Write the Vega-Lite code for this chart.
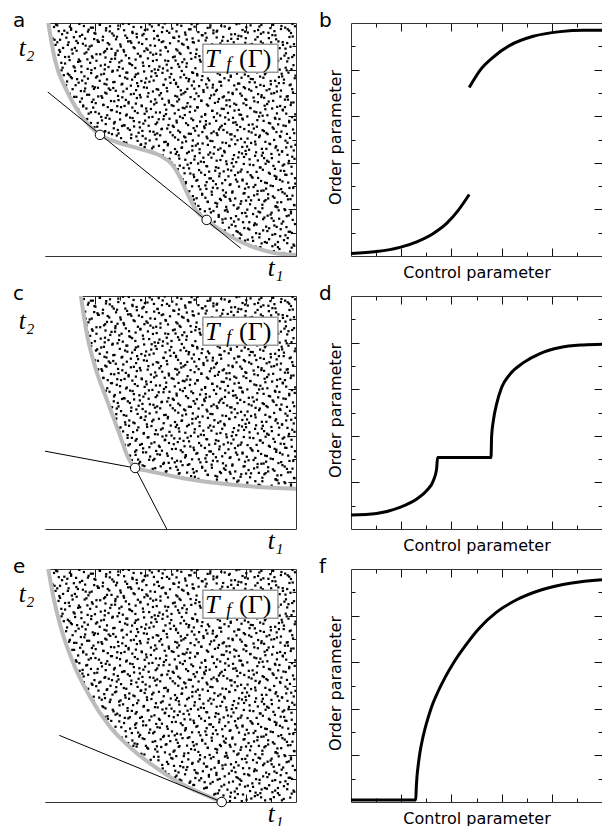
{
"$schema":"https://vega.github.io/schema/vega-lite/v6.json",
"background":"white",
"padding":{"left":13,"top":10,"right":0,"bottom":0},
"autosize":{"type":"pad"},
"config":{"view":{"stroke":null},"axis":{"labels":false,"grid":false,"domainColor":"#333333","tickColor":"#111111","tickWidth":1,"zindex":1,"titleColor":"black","titleFontWeight":"normal"},"title":{"font":"DejaVu Sans","fontWeight":"normal","fontSize":20,"anchor":"start","frame":"group","dx":-32,"offset":-8,"baseline":"alphabetic","color":"black"}},
"datasets":{
"dots":[{"x":7,"y":22},{"x":31,"y":5},{"x":68,"y":33},{"x":79,"y":14},{"x":112,"y":38},{"x":133,"y":9},{"x":161,"y":27},{"x":190,"y":2},{"x":203,"y":19},{"x":238,"y":36},{"x":252,"y":11},{"x":283,"y":29},{"x":309,"y":6},{"x":331,"y":24},{"x":362,"y":37},{"x":381,"y":15},{"x":417,"y":31},{"x":429,"y":3},{"x":466,"y":20},{"x":488,"y":34},{"x":502,"y":8},{"x":539,"y":26},{"x":551,"y":17},{"x":584,"y":39},{"x":613,"y":1},{"x":630,"y":23},{"x":668,"y":12},{"x":679,"y":35},{"x":711,"y":28},{"x":737,"y":4},{"x":757,"y":18},{"x":789,"y":32},{"x":803,"y":10},{"x":836,"y":25},{"x":858,"y":38},{"x":877,"y":7},{"x":912,"y":21},{"x":934,"y":30},{"x":951,"y":13},{"x":983,"y":36},
{"x":14,"y":57},{"x":44,"y":78},{"x":52,"y":45},{"x":91,"y":66},{"x":104,"y":51},{"x":141,"y":74},{"x":153,"y":43},{"x":184,"y":62},{"x":219,"y":79},{"x":229,"y":48},{"x":268,"y":70},{"x":279,"y":41},{"x":316,"y":59},{"x":344,"y":76},{"x":356,"y":49},{"x":393,"y":64},{"x":408,"y":42},{"x":437,"y":71},{"x":457,"y":55},{"x":494,"y":77},{"x":511,"y":46},{"x":528,"y":68},{"x":564,"y":53},{"x":591,"y":73},{"x":604,"y":44},{"x":641,"y":61},{"x":659,"y":79},{"x":694,"y":50},{"x":703,"y":67},{"x":741,"y":40},{"x":764,"y":58},{"x":776,"y":75},{"x":817,"y":47},{"x":829,"y":65},{"x":863,"y":54},{"x":893,"y":72},{"x":906,"y":42},{"x":928,"y":60},{"x":967,"y":77},{"x":990,"y":49},
{"x":3,"y":101},{"x":38,"y":84},{"x":61,"y":117},{"x":86,"y":93},{"x":118,"y":108},{"x":127,"y":82},{"x":166,"y":114},{"x":179,"y":97},{"x":211,"y":86},{"x":243,"y":112},{"x":259,"y":90},{"x":291,"y":105},{"x":302,"y":81},{"x":337,"y":118},{"x":368,"y":95},{"x":376,"y":109},{"x":421,"y":87},{"x":446,"y":113},{"x":461,"y":99},{"x":482,"y":83},{"x":519,"y":106},{"x":543,"y":92},{"x":558,"y":119},{"x":579,"y":88},{"x":622,"y":102},{"x":636,"y":85},{"x":653,"y":116},{"x":688,"y":96},{"x":716,"y":110},{"x":733,"y":84},{"x":768,"y":103},{"x":782,"y":91},{"x":809,"y":118},{"x":841,"y":98},{"x":854,"y":80},{"x":886,"y":107},{"x":917,"y":94},{"x":939,"y":115},{"x":958,"y":89},{"x":977,"y":104},
{"x":19,"y":138},{"x":27,"y":156},{"x":57,"y":124},{"x":97,"y":147},{"x":108,"y":131},{"x":148,"y":159},{"x":158,"y":126},{"x":193,"y":143},{"x":207,"y":157},{"x":234,"y":122},{"x":264,"y":149},{"x":287,"y":135},{"x":313,"y":153},{"x":327,"y":128},{"x":359,"y":146},{"x":398,"y":133},{"x":404,"y":158},{"x":441,"y":121},{"x":469,"y":144},{"x":479,"y":130},{"x":514,"y":155},{"x":532,"y":127},{"x":567,"y":150},{"x":596,"y":137},{"x":608,"y":123},{"x":646,"y":152},{"x":662,"y":140},{"x":683,"y":125},{"x":707,"y":157},{"x":744,"y":134},{"x":753,"y":148},{"x":794,"y":120},{"x":814,"y":145},{"x":833,"y":132},{"x":869,"y":158},{"x":881,"y":126},{"x":911,"y":151},{"x":943,"y":139},{"x":962,"y":124},{"x":987,"y":155},
{"x":9,"y":181},{"x":41,"y":166},{"x":66,"y":195},{"x":84,"y":173},{"x":121,"y":189},{"x":137,"y":162},{"x":169,"y":198},{"x":186,"y":177},{"x":214,"y":164},{"x":247,"y":192},{"x":256,"y":170},{"x":294,"y":185},{"x":306,"y":161},{"x":341,"y":199},{"x":353,"y":175},{"x":388,"y":188},{"x":413,"y":167},{"x":434,"y":194},{"x":452,"y":179},{"x":491,"y":163},{"x":508,"y":186},{"x":546,"y":172},{"x":553,"y":197},{"x":588,"y":168},{"x":617,"y":183},{"x":633,"y":165},{"x":671,"y":193},{"x":692,"y":176},{"x":719,"y":160},{"x":728,"y":190},{"x":761,"y":171},{"x":785,"y":184},{"x":806,"y":199},{"x":844,"y":169},{"x":857,"y":187},{"x":899,"y":178},{"x":903,"y":162},{"x":931,"y":196},{"x":971,"y":174},{"x":980,"y":191},
{"x":16,"y":226},{"x":35,"y":209},{"x":72,"y":237},{"x":81,"y":214},{"x":115,"y":231},{"x":144,"y":203},{"x":151,"y":219},{"x":196,"y":239},{"x":223,"y":206},{"x":231,"y":228},{"x":271,"y":213},{"x":282,"y":234},{"x":319,"y":201},{"x":334,"y":222},{"x":365,"y":238},{"x":384,"y":207},{"x":411,"y":229},{"x":448,"y":216},{"x":463,"y":236},{"x":497,"y":204},{"x":516,"y":221},{"x":536,"y":240},{"x":571,"y":210},{"x":582,"y":227},{"x":611,"y":215},{"x":648,"y":233},{"x":656,"y":202},{"x":686,"y":225},{"x":722,"y":211},{"x":739,"y":237},{"x":771,"y":208},{"x":779,"y":224},{"x":821,"y":239},{"x":838,"y":205},{"x":866,"y":220},{"x":874,"y":235},{"x":919,"y":212},{"x":926,"y":230},{"x":954,"y":201},{"x":994,"y":218},
{"x":5,"y":262},{"x":47,"y":249},{"x":55,"y":271},{"x":94,"y":255},{"x":102,"y":277},{"x":131,"y":244},{"x":173,"y":266},{"x":182,"y":252},{"x":217,"y":273},{"x":244,"y":243},{"x":262,"y":259},{"x":289,"y":278},{"x":311,"y":246},{"x":348,"y":264},{"x":357,"y":251},{"x":396,"y":270},{"x":402,"y":241},{"x":439,"y":261},{"x":471,"y":279},{"x":484,"y":248},{"x":523,"y":267},{"x":529,"y":254},{"x":569,"y":275},{"x":593,"y":242},{"x":626,"y":263},{"x":639,"y":250},{"x":664,"y":276},{"x":697,"y":245},{"x":713,"y":260},{"x":746,"y":272},{"x":758,"y":247},{"x":791,"y":268},{"x":811,"y":253},{"x":847,"y":279},{"x":852,"y":241},{"x":889,"y":265},{"x":914,"y":250},{"x":946,"y":274},{"x":964,"y":258},{"x":978,"y":244},
{"x":21,"y":301},{"x":29,"y":287},{"x":64,"y":316},{"x":89,"y":294},{"x":123,"y":309},{"x":139,"y":283},{"x":163,"y":318},{"x":191,"y":297},{"x":209,"y":285},{"x":236,"y":312},{"x":266,"y":291},{"x":276,"y":306},{"x":323,"y":281},{"x":339,"y":315},{"x":371,"y":298},{"x":379,"y":288},{"x":419,"y":311},{"x":431,"y":295},{"x":458,"y":319},{"x":493,"y":284},{"x":506,"y":303},{"x":541,"y":290},{"x":561,"y":314},{"x":586,"y":299},{"x":619,"y":286},{"x":644,"y":317},{"x":669,"y":293},{"x":681,"y":308},{"x":709,"y":282},{"x":736,"y":305},{"x":766,"y":319},{"x":797,"y":289},{"x":804,"y":310},{"x":831,"y":296},{"x":871,"y":281},{"x":884,"y":313},{"x":908,"y":300},{"x":941,"y":287},{"x":969,"y":315},{"x":989,"y":292},
{"x":11,"y":343},{"x":43,"y":327},{"x":69,"y":356},{"x":78,"y":334},{"x":117,"y":349},{"x":146,"y":322},{"x":156,"y":358},{"x":188,"y":337},{"x":221,"y":325},{"x":241,"y":352},{"x":253,"y":331},{"x":296,"y":346},{"x":304,"y":321},{"x":332,"y":359},{"x":364,"y":338},{"x":391,"y":329},{"x":416,"y":351},{"x":443,"y":335},{"x":454,"y":357},{"x":486,"y":324},{"x":521,"y":344},{"x":548,"y":330},{"x":556,"y":355},{"x":594,"y":339},{"x":603,"y":323},{"x":637,"y":348},{"x":661,"y":333},{"x":696,"y":354},{"x":718,"y":326},{"x":731,"y":342},{"x":769,"y":358},{"x":787,"y":328},{"x":819,"y":347},{"x":827,"y":336},{"x":861,"y":322},{"x":896,"y":353},{"x":922,"y":340},{"x":936,"y":327},{"x":957,"y":349},{"x":996,"y":334},
{"x":24,"y":377},{"x":33,"y":395},{"x":59,"y":366},{"x":98,"y":385},{"x":111,"y":371},{"x":129,"y":398},{"x":171,"y":363},{"x":198,"y":382},{"x":204,"y":396},{"x":249,"y":368},{"x":273,"y":389},{"x":281,"y":375},{"x":318,"y":361},{"x":346,"y":391},{"x":361,"y":379},{"x":386,"y":365},{"x":409,"y":393},{"x":436,"y":372},{"x":468,"y":397},{"x":477,"y":381},{"x":513,"y":364},{"x":537,"y":388},{"x":574,"y":376},{"x":581,"y":399},{"x":614,"y":369},{"x":643,"y":386},{"x":654,"y":362},{"x":691,"y":378},{"x":724,"y":394},{"x":742,"y":367},{"x":751,"y":384},{"x":783,"y":371},{"x":816,"y":392},{"x":843,"y":361},{"x":859,"y":380},{"x":879,"y":396},{"x":916,"y":374},{"x":947,"y":388},{"x":953,"y":365},{"x":982,"y":383},
{"x":2,"y":418},{"x":48,"y":437},{"x":63,"y":404},{"x":87,"y":426},{"x":124,"y":411},{"x":142,"y":433},{"x":167,"y":402},{"x":181,"y":421},{"x":226,"y":439},{"x":233,"y":407},{"x":258,"y":429},{"x":297,"y":415},{"x":301,"y":436},{"x":329,"y":403},{"x":367,"y":424},{"x":394,"y":412},{"x":407,"y":438},{"x":449,"y":406},{"x":462,"y":427},{"x":496,"y":417},{"x":504,"y":401},{"x":533,"y":432},{"x":559,"y":413},{"x":597,"y":428},{"x":621,"y":405},{"x":631,"y":422},{"x":672,"y":439},{"x":684,"y":409},{"x":706,"y":430},{"x":748,"y":416},{"x":762,"y":403},{"x":793,"y":425},{"x":801,"y":437},{"x":848,"y":410},{"x":864,"y":431},{"x":891,"y":404},{"x":904,"y":420},{"x":933,"y":435},{"x":972,"y":408},{"x":985,"y":426},
{"x":17,"y":463},{"x":39,"y":449},{"x":71,"y":476},{"x":83,"y":455},{"x":106,"y":470},{"x":136,"y":443},{"x":159,"y":467},{"x":194,"y":452},{"x":213,"y":478},{"x":239,"y":446},{"x":269,"y":461},{"x":284,"y":474},{"x":321,"y":448},{"x":336,"y":466},{"x":352,"y":457},{"x":383,"y":479},{"x":424,"y":442},{"x":432,"y":469},{"x":473,"y":454},{"x":489,"y":475},{"x":526,"y":447},{"x":544,"y":464},{"x":566,"y":441},{"x":587,"y":472},{"x":616,"y":458},{"x":649,"y":477},{"x":658,"y":444},{"x":699,"y":462},{"x":714,"y":451},{"x":734,"y":473},{"x":773,"y":445},{"x":786,"y":468},{"x":813,"y":456},{"x":839,"y":479},{"x":868,"y":443},{"x":882,"y":460},{"x":921,"y":471},{"x":944,"y":449},{"x":961,"y":466},{"x":991,"y":453},
{"x":8,"y":497},{"x":36,"y":516},{"x":67,"y":484},{"x":92,"y":508},{"x":119,"y":492},{"x":134,"y":519},{"x":172,"y":486},{"x":189,"y":503},{"x":216,"y":512},{"x":246,"y":481},{"x":261,"y":499},{"x":286,"y":517},{"x":314,"y":489},{"x":343,"y":506},{"x":369,"y":494},{"x":389,"y":515},{"x":401,"y":483},{"x":444,"y":501},{"x":459,"y":518},{"x":481,"y":490},{"x":518,"y":509},{"x":547,"y":487},{"x":554,"y":513},{"x":589,"y":496},{"x":609,"y":482},{"x":647,"y":505},{"x":667,"y":493},{"x":687,"y":519},{"x":721,"y":485},{"x":743,"y":500},{"x":756,"y":514},{"x":796,"y":488},{"x":807,"y":504},{"x":837,"y":491},{"x":856,"y":517},{"x":897,"y":480},{"x":913,"y":498},{"x":938,"y":511},{"x":966,"y":486},{"x":976,"y":507},
{"x":22,"y":544},{"x":42,"y":528},{"x":54,"y":557},{"x":96,"y":537},{"x":113,"y":524},{"x":149,"y":551},{"x":154,"y":539},{"x":197,"y":523},{"x":208,"y":555},{"x":237,"y":533},{"x":274,"y":548},{"x":293,"y":526},{"x":307,"y":558},{"x":338,"y":541},{"x":373,"y":529},{"x":378,"y":552},{"x":418,"y":535},{"x":438,"y":521},{"x":466,"y":546},{"x":499,"y":531},{"x":509,"y":559},{"x":531,"y":538},{"x":573,"y":525},{"x":592,"y":549},{"x":627,"y":532},{"x":634,"y":556},{"x":663,"y":527},{"x":693,"y":543},{"x":704,"y":559},{"x":738,"y":522},{"x":767,"y":540},{"x":778,"y":554},{"x":823,"y":530},{"x":832,"y":547},{"x":872,"y":536},{"x":887,"y":523},{"x":907,"y":552},{"x":942,"y":534},{"x":959,"y":558},{"x":993,"y":527},
{"x":13,"y":582},{"x":28,"y":569},{"x":73,"y":594},{"x":82,"y":576},{"x":103,"y":599},{"x":138,"y":563},{"x":164,"y":586},{"x":183,"y":571},{"x":224,"y":597},{"x":242,"y":566},{"x":257,"y":589},{"x":278,"y":575},{"x":317,"y":561},{"x":349,"y":592},{"x":354,"y":579},{"x":392,"y":568},{"x":414,"y":595},{"x":447,"y":573},{"x":453,"y":587},{"x":492,"y":562},{"x":524,"y":581},{"x":538,"y":598},{"x":562,"y":570},{"x":583,"y":590},{"x":618,"y":577},{"x":641,"y":564},{"x":673,"y":596},{"x":682,"y":580},{"x":717,"y":567},{"x":749,"y":593},{"x":759,"y":574},{"x":788,"y":586},{"x":812,"y":563},{"x":846,"y":583},{"x":853,"y":599},{"x":892,"y":571},{"x":918,"y":589},{"x":929,"y":565},{"x":973,"y":580},{"x":984,"y":596},
{"x":6,"y":621},{"x":46,"y":608},{"x":58,"y":634},{"x":93,"y":615},{"x":126,"y":602},{"x":132,"y":629},{"x":174,"y":611},{"x":192,"y":637},{"x":201,"y":618},{"x":248,"y":604},{"x":267,"y":626},{"x":299,"y":613},{"x":303,"y":639},{"x":326,"y":607},{"x":358,"y":622},{"x":397,"y":610},{"x":403,"y":633},{"x":442,"y":616},{"x":474,"y":601},{"x":483,"y":628},{"x":517,"y":612},{"x":549,"y":636},{"x":557,"y":605},{"x":598,"y":624},{"x":606,"y":638},{"x":638,"y":609},{"x":666,"y":623},{"x":698,"y":603},{"x":712,"y":631},{"x":729,"y":614},{"x":772,"y":627},{"x":781,"y":606},{"x":818,"y":635},{"x":842,"y":617},{"x":867,"y":602},{"x":878,"y":630},{"x":924,"y":612},{"x":948,"y":625},{"x":956,"y":639},{"x":997,"y":608},
{"x":18,"y":657},{"x":32,"y":674},{"x":62,"y":645},{"x":86,"y":668},{"x":109,"y":653},{"x":147,"y":676},{"x":152,"y":642},{"x":187,"y":661},{"x":228,"y":679},{"x":232,"y":649},{"x":263,"y":665},{"x":288,"y":643},{"x":322,"y":670},{"x":333,"y":655},{"x":366,"y":678},{"x":385,"y":646},{"x":422,"y":663},{"x":435,"y":651},{"x":467,"y":675},{"x":494,"y":659},{"x":512,"y":644},{"x":534,"y":672},{"x":568,"y":656},{"x":579,"y":641},{"x":623,"y":667},{"x":645,"y":650},{"x":657,"y":677},{"x":689,"y":662},{"x":723,"y":647},{"x":735,"y":669},{"x":754,"y":654},{"x":798,"y":673},{"x":802,"y":648},{"x":834,"y":664},{"x":873,"y":679},{"x":885,"y":652},{"x":909,"y":666},{"x":937,"y":644},{"x":968,"y":671},{"x":981,"y":658},
{"x":10,"y":703},{"x":37,"y":689},{"x":74,"y":714},{"x":99,"y":696},{"x":116,"y":683},{"x":143,"y":708},{"x":168,"y":692},{"x":195,"y":717},{"x":212,"y":685},{"x":240,"y":701},{"x":254,"y":719},{"x":291,"y":687},{"x":312,"y":706},{"x":342,"y":694},{"x":363,"y":712},{"x":381,"y":681},{"x":412,"y":699},{"x":445,"y":716},{"x":456,"y":690},{"x":487,"y":707},{"x":527,"y":684},{"x":541,"y":711},{"x":552,"y":698},{"x":595,"y":718},{"x":612,"y":686},{"x":632,"y":704},{"x":674,"y":693},{"x":685,"y":713},{"x":708,"y":681},{"x":747,"y":700},{"x":763,"y":715},{"x":784,"y":688},{"x":822,"y":709},{"x":849,"y":695},{"x":862,"y":682},{"x":894,"y":716},{"x":902,"y":697},{"x":940,"y":710},{"x":963,"y":684},{"x":988,"y":702},
{"x":23,"y":738},{"x":45,"y":756},{"x":53,"y":727},{"x":88,"y":749},{"x":122,"y":733},{"x":128,"y":759},{"x":162,"y":741},{"x":199,"y":724},{"x":218,"y":752},{"x":245,"y":736},{"x":272,"y":721},{"x":277,"y":747},{"x":308,"y":739},{"x":347,"y":757},{"x":371,"y":729},{"x":399,"y":744},{"x":406,"y":722},{"x":433,"y":753},{"x":472,"y":735},{"x":480,"y":758},{"x":522,"y":743},{"x":530,"y":726},{"x":572,"y":750},{"x":585,"y":732},{"x":624,"y":755},{"x":642,"y":737},{"x":668,"y":723},{"x":695,"y":748},{"x":702,"y":731},{"x":732,"y":754},{"x":774,"y":740},{"x":792,"y":725},{"x":815,"y":746},{"x":828,"y":759},{"x":858,"y":734},{"x":899,"y":751},{"x":923,"y":728},{"x":932,"y":742},{"x":952,"y":757},{"x":979,"y":736},
{"x":4,"y":784},{"x":34,"y":768},{"x":66,"y":797},{"x":97,"y":776},{"x":107,"y":763},{"x":145,"y":789},{"x":157,"y":771},{"x":185,"y":798},{"x":203,"y":766},{"x":235,"y":782},{"x":270,"y":795},{"x":298,"y":773},{"x":324,"y":787},{"x":328,"y":761},{"x":362,"y":779},{"x":395,"y":792},{"x":423,"y":770},{"x":440,"y":785},{"x":451,"y":799},{"x":497,"y":767},{"x":503,"y":781},{"x":545,"y":794},{"x":563,"y":764},{"x":590,"y":786},{"x":607,"y":775},{"x":649,"y":762},{"x":655,"y":791},{"x":697,"y":778},{"x":720,"y":797},{"x":740,"y":769},{"x":765,"y":783},{"x":779,"y":796},{"x":810,"y":772},{"x":845,"y":788},{"x":870,"y":765},{"x":876,"y":780},{"x":915,"y":798},{"x":945,"y":771},{"x":970,"y":787},{"x":995,"y":763},
{"x":15,"y":822},{"x":40,"y":839},{"x":70,"y":808},{"x":80,"y":826},{"x":114,"y":814},{"x":140,"y":836},{"x":170,"y":803},{"x":180,"y":829},{"x":222,"y":817},{"x":238,"y":801},{"x":260,"y":833},{"x":295,"y":811},{"x":305,"y":838},{"x":340,"y":824},{"x":360,"y":807},{"x":390,"y":830},{"x":415,"y":815},{"x":430,"y":837},{"x":470,"y":805},{"x":485,"y":821},{"x":520,"y":839},{"x":535,"y":812},{"x":565,"y":827},{"x":599,"y":806},{"x":620,"y":834},{"x":635,"y":818},{"x":670,"y":802},{"x":680,"y":831},{"x":715,"y":813},{"x":745,"y":836},{"x":760,"y":820},{"x":795,"y":804},{"x":820,"y":832},{"x":840,"y":816},{"x":855,"y":839},{"x":895,"y":809},{"x":910,"y":825},{"x":935,"y":800},{"x":965,"y":835},{"x":990,"y":819},
{"x":20,"y":861},{"x":30,"y":847},{"x":60,"y":876},{"x":95,"y":855},{"x":110,"y":869},{"x":135,"y":843},{"x":165,"y":874},{"x":190,"y":851},{"x":205,"y":866},{"x":240,"y":879},{"x":265,"y":846},{"x":280,"y":862},{"x":315,"y":877},{"x":335,"y":849},{"x":370,"y":868},{"x":380,"y":856},{"x":420,"y":873},{"x":445,"y":841},{"x":460,"y":864},{"x":490,"y":878},{"x":510,"y":853},{"x":540,"y":867},{"x":555,"y":844},{"x":580,"y":871},{"x":615,"y":858},{"x":645,"y":875},{"x":660,"y":848},{"x":690,"y":863},{"x":725,"y":842},{"x":730,"y":872},{"x":770,"y":857},{"x":785,"y":879},{"x":805,"y":845},{"x":835,"y":866},{"x":865,"y":852},{"x":880,"y":877},{"x":920,"y":860},{"x":940,"y":847},{"x":960,"y":870},{"x":985,"y":854},
{"x":12,"y":898},{"x":49,"y":917},{"x":57,"y":884},{"x":91,"y":906},{"x":119,"y":893},{"x":131,"y":914},{"x":173,"y":887},{"x":186,"y":903},{"x":214,"y":919},{"x":247,"y":889},{"x":256,"y":908},{"x":289,"y":881},{"x":302,"y":899},{"x":344,"y":915},{"x":357,"y":892},{"x":387,"y":910},{"x":409,"y":885},{"x":438,"y":902},{"x":465,"y":918},{"x":482,"y":894},{"x":528,"y":882},{"x":546,"y":911},{"x":569,"y":897},{"x":593,"y":916},{"x":604,"y":886},{"x":633,"y":905},{"x":663,"y":891},{"x":699,"y":913},{"x":711,"y":883},{"x":737,"y":900},{"x":752,"y":917},{"x":790,"y":888},{"x":817,"y":907},{"x":843,"y":895},{"x":868,"y":913},{"x":883,"y":884},{"x":917,"y":901},{"x":947,"y":918},{"x":958,"y":890},{"x":992,"y":909},
{"x":7,"y":944},{"x":38,"y":928},{"x":68,"y":952},{"x":85,"y":937},{"x":125,"y":923},{"x":148,"y":949},{"x":160,"y":933},{"x":197,"y":957},{"x":209,"y":926},{"x":231,"y":941},{"x":268,"y":955},{"x":283,"y":930},{"x":320,"y":946},{"x":331,"y":921},{"x":366,"y":939},{"x":393,"y":953},{"x":404,"y":931},{"x":448,"y":945},{"x":454,"y":927},{"x":495,"y":958},{"x":515,"y":936},{"x":532,"y":922},{"x":560,"y":950},{"x":588,"y":934},{"x":628,"y":947},{"x":640,"y":925},{"x":671,"y":956},{"x":684,"y":938},{"x":706,"y":924},{"x":742,"y":951},{"x":768,"y":932},{"x":782,"y":943},{"x":808,"y":959},{"x":838,"y":929},{"x":860,"y":954},{"x":892,"y":935},{"x":906,"y":948},{"x":930,"y":921},{"x":974,"y":940},{"x":980,"y":957},
{"x":19,"y":977},{"x":44,"y":993},{"x":55,"y":965},{"x":99,"y":984},{"x":104,"y":971},{"x":137,"y":996},{"x":171,"y":963},{"x":183,"y":980},{"x":219,"y":992},{"x":243,"y":968},{"x":259,"y":986},{"x":292,"y":974},{"x":311,"y":997},{"x":348,"y":962},{"x":353,"y":983},{"x":398,"y":970},{"x":417,"y":994},{"x":434,"y":966},{"x":469,"y":981},{"x":477,"y":998},{"x":524,"y":964},{"x":543,"y":988},{"x":574,"y":973},{"x":584,"y":995},{"x":611,"y":961},{"x":648,"y":979},{"x":659,"y":990},{"x":686,"y":967},{"x":716,"y":985},{"x":733,"y":975},{"x":774,"y":998},{"x":797,"y":963},{"x":802,"y":982},{"x":849,"y":970},{"x":862,"y":992},{"x":898,"y":978},{"x":914,"y":965},{"x":942,"y":987},{"x":967,"y":973},{"x":986,"y":996}],
"curveA":[{"x":13,"y":1000},{"x":40,"y":840},{"x":86,"y":711},{"x":139,"y":611},{"x":219,"y":520},{"x":286,"y":489},{"x":378,"y":460},{"x":458,"y":431},{"x":505,"y":395},{"x":538,"y":338},{"x":571,"y":259},{"x":604,"y":194},{"x":644,"y":155},{"x":724,"y":94},{"x":817,"y":43},{"x":910,"y":14},{"x":1000,"y":4}],
"tanA":[{"x":11,"y":704,"s":1},{"x":780,"y":33,"s":1}],
"ptsA":[{"x":219,"y":520},{"x":644,"y":155}],
"curveC":[{"x":143,"y":1000},{"x":166,"y":842},{"x":199,"y":699},{"x":246,"y":556},{"x":295,"y":413},{"x":332,"y":305},{"x":359,"y":262},{"x":418,"y":248},{"x":551,"y":218},{"x":684,"y":197},{"x":817,"y":183},{"x":1000,"y":173}],
"tanC":[{"x":0,"y":334,"s":1},{"x":359,"y":262,"s":1},{"x":359,"y":262,"s":2},{"x":485,"y":0,"s":2}],
"ptsC":[{"x":359,"y":262}],
"curveE":[{"x":13,"y":1000},{"x":33,"y":882},{"x":66,"y":739},{"x":113,"y":595},{"x":179,"y":452},{"x":259,"y":323},{"x":352,"y":222},{"x":458,"y":136},{"x":565,"y":66},{"x":644,"y":28},{"x":704,"y":0}],
"tanE":[{"x":57,"y":286,"s":1},{"x":704,"y":0,"s":1}],
"ptsE":[{"x":704,"y":0}],
"curveB":[{"x":0,"y":11,"s":1},{"x":102,"y":19,"s":1},{"x":195,"y":37,"s":1},{"x":262,"y":61,"s":1},{"x":328,"y":97,"s":1},{"x":381,"y":140,"s":1},{"x":428,"y":197,"s":1},{"x":471,"y":264,"s":1},{"x":471,"y":723,"s":2},{"x":514,"y":797,"s":2},{"x":567,"y":854,"s":2},{"x":633,"y":904,"s":2},{"x":726,"y":943,"s":2},{"x":833,"y":963,"s":2},{"x":926,"y":969,"s":2},{"x":1000,"y":969,"s":2}],
"curveD":[{"x":0,"y":60,"s":1},{"x":102,"y":67,"s":1},{"x":195,"y":93,"s":1},{"x":262,"y":129,"s":1},{"x":301,"y":164,"s":1},{"x":328,"y":207,"s":1},{"x":341,"y":257,"s":1},{"x":345,"y":307,"s":1},{"x":558,"y":307,"s":1},{"x":560,"y":393,"s":1},{"x":567,"y":464,"s":1},{"x":580,"y":536,"s":1},{"x":600,"y":607,"s":1},{"x":633,"y":664,"s":1},{"x":687,"y":714,"s":1},{"x":753,"y":753,"s":1},{"x":833,"y":779,"s":1},{"x":926,"y":790,"s":1},{"x":1000,"y":793,"s":1}],
"curveF":[{"x":0,"y":9,"s":1},{"x":258,"y":9,"s":1},{"x":260,"y":60,"s":1},{"x":263,"y":110,"s":1},{"x":268,"y":160,"s":1},{"x":275,"y":215,"s":1},{"x":285,"y":270,"s":1},{"x":300,"y":335,"s":1},{"x":320,"y":405,"s":1},{"x":345,"y":470,"s":1},{"x":375,"y":535,"s":1},{"x":410,"y":600,"s":1},{"x":455,"y":670,"s":1},{"x":510,"y":745,"s":1},{"x":580,"y":815,"s":1},{"x":660,"y":868,"s":1},{"x":760,"y":911,"s":1},{"x":880,"y":940,"s":1},{"x":1000,"y":954,"s":1}]
},
"columns":2,
"spacing":{"row":40,"column":55},
"bounds":"flush",
"concat":[
{"width":251,"height":233,"title":"a","resolve":{"axis":{"x":"independent","y":"independent"}},"layer":[
{"data":{"name":"dots"},"mark":{"type":"square","size":5,"color":"black","opacity":1,"clip":true},"encoding":{"x":{"field":"x","type":"quantitative","scale":{"domain":[0,1000]},"axis":{"orient":"top","offset":-233,"values":[100,200,300,400,500,600,700,800,900],"tickSize":{"condition":{"test":"datum.value % 200 === 0","value":8},"value":4},"title":"t₁","titleFont":"Liberation Serif","titleFontStyle":"italic","titleFontSize":25,"titleX":230,"titleY":19,"titleAlign":"center","titleBaseline":"alphabetic"}},"y":{"field":"y","type":"quantitative","scale":{"domain":[0,1000]},"axis":{"orient":"right","offset":-251,"values":[100,200,300,400,500,600,700,800,900],"tickSize":{"condition":{"test":"datum.value % 200 === 0","value":8},"value":4},"title":"t₂","titleFont":"Liberation Serif","titleFontStyle":"italic","titleFontSize":25,"titleAngle":0,"titleX":-19,"titleY":32,"titleAlign":"center","titleBaseline":"alphabetic"}}}},
{"data":{"name":"dots"},"mark":{"type":"square","size":5,"color":"black","opacity":1,"clip":true},"encoding":{"x":{"field":"y","type":"quantitative","scale":{"domain":[0,1000]},"axis":null},"y":{"field":"x","type":"quantitative","scale":{"domain":[0,1000]},"axis":null}}},
{"data":{"name":"curveA"},"mark":{"type":"area","fill":"white","interpolate":"monotone","orient":"vertical","clip":true},"encoding":{"x":{"field":"x","type":"quantitative","scale":{"domain":[0,1000]},"axis":{"orient":"bottom","offset":-233,"values":[100,200,300,400,500,600,700,800,900],"tickSize":{"condition":{"test":"datum.value % 200 === 0","value":8},"value":4},"title":null}},"y":{"field":"y","type":"quantitative","scale":{"domain":[0,1000]},"axis":{"orient":"left","offset":-251,"values":[100,200,300,400,500,600,700,800,900],"tickSize":{"condition":{"test":"datum.value % 200 === 0","value":8},"value":4},"title":null}}}},
{"data":{"values":[{}]},"mark":{"type":"rect","fill":"white","strokeWidth":0},"encoding":{"x":{"datum":0,"type":"quantitative","scale":{"domain":[0,1000]},"axis":null},"x2":{"datum":16},"y":{"datum":0,"type":"quantitative","scale":{"domain":[0,1000]},"axis":null},"y2":{"datum":1000}}},
{"data":{"name":"curveA"},"mark":{"type":"line","color":"#bbbbbb","strokeWidth":4,"interpolate":"monotone","clip":true},"encoding":{"x":{"field":"x","type":"quantitative","scale":{"domain":[0,1000]},"axis":null},"y":{"field":"y","type":"quantitative","scale":{"domain":[0,1000]},"axis":null}}},
{"data":{"name":"tanA"},"mark":{"type":"line","color":"black","strokeWidth":1,"clip":true},"encoding":{"x":{"field":"x","type":"quantitative","scale":{"domain":[0,1000]},"axis":null},"y":{"field":"y","type":"quantitative","scale":{"domain":[0,1000]},"axis":null},"detail":{"field":"s"}}},
{"data":{"name":"ptsA"},"mark":{"type":"circle","fill":"white","stroke":"black","strokeWidth":1,"size":90,"opacity":1},"encoding":{"x":{"field":"x","type":"quantitative","scale":{"domain":[0,1000]},"axis":null},"y":{"field":"y","type":"quantitative","scale":{"domain":[0,1000]},"axis":null}}},
{"data":{"values":[{}]},"mark":{"type":"rect","fill":"white","stroke":"#999999","strokeWidth":1.5},"encoding":{"x":{"datum":629,"type":"quantitative","scale":{"domain":[0,1000]},"axis":null},"x2":{"datum":928},"y":{"datum":909,"type":"quantitative","scale":{"domain":[0,1000]},"axis":null},"y2":{"datum":789}}},
{"data":{"values":[{}]},"mark":{"type":"text","text":"T","font":"Liberation Serif","fontStyle":"italic","fontSize":26,"align":"left","baseline":"alphabetic","color":"black"},"encoding":{"x":{"datum":637,"type":"quantitative","scale":{"domain":[0,1000]},"axis":null},"y":{"datum":812,"type":"quantitative","scale":{"domain":[0,1000]},"axis":null}}},
{"data":{"values":[{}]},"mark":{"type":"text","text":"f","font":"Liberation Serif","fontStyle":"italic","fontSize":18,"align":"left","baseline":"alphabetic","color":"black"},"encoding":{"x":{"datum":722,"type":"quantitative","scale":{"domain":[0,1000]},"axis":null},"y":{"datum":800,"type":"quantitative","scale":{"domain":[0,1000]},"axis":null}}},
{"data":{"values":[{}]},"mark":{"type":"text","text":"(Γ)","font":"Liberation Serif","fontSize":26,"align":"left","baseline":"alphabetic","color":"black"},"encoding":{"x":{"datum":773,"type":"quantitative","scale":{"domain":[0,1000]},"axis":null},"y":{"datum":812,"type":"quantitative","scale":{"domain":[0,1000]},"axis":null}}}
]},
{"width":251,"height":233,"title":"b","resolve":{"axis":{"x":"independent","y":"independent"}},"layer":[
{"data":{"name":"curveB"},"mark":{"type":"line","color":"black","strokeWidth":3,"interpolate":"monotone","clip":true},"encoding":{"x":{"field":"x","type":"quantitative","scale":{"domain":[0,1000]},"axis":{"orient":"top","offset":-233,"values":[100,200,300,400,500,600,700,800,900],"tickSize":{"condition":{"test":"datum.value % 200 === 0","value":8},"value":4},"title":"Control parameter","titleFont":"DejaVu Sans","titleFontSize":16,"titleX":125.5,"titleY":16,"titleAlign":"center","titleBaseline":"middle"}},"y":{"field":"y","type":"quantitative","scale":{"domain":[0,1000]},"axis":{"orient":"right","offset":-251,"values":[100,200,300,400,500,600,700,800,900],"tickSize":{"condition":{"test":"datum.value % 200 === 0","value":8},"value":4},"title":"Order parameter","titleFont":"DejaVu Sans","titleFontSize":16,"titleAngle":-90,"titleX":-16,"titleY":114,"titleAlign":"center","titleBaseline":"middle"}},"detail":{"field":"s"}}},
{"data":{"name":"curveB"},"mark":{"type":"line","opacity":0},"encoding":{"x":{"field":"x","type":"quantitative","scale":{"domain":[0,1000]},"axis":{"orient":"bottom","offset":-233,"values":[100,200,300,400,500,600,700,800,900],"tickSize":{"condition":{"test":"datum.value % 200 === 0","value":8},"value":4},"title":null}},"y":{"field":"y","type":"quantitative","scale":{"domain":[0,1000]},"axis":{"orient":"left","offset":-251,"values":[100,200,300,400,500,600,700,800,900],"tickSize":{"condition":{"test":"datum.value % 200 === 0","value":8},"value":4},"title":null}},"detail":{"field":"s"}}}
]},
{"width":251,"height":233,"title":"c","resolve":{"axis":{"x":"independent","y":"independent"}},"layer":[
{"data":{"name":"dots"},"mark":{"type":"square","size":5,"color":"black","opacity":1,"clip":true},"encoding":{"x":{"field":"x","type":"quantitative","scale":{"domain":[0,1000]},"axis":{"orient":"top","offset":-233,"values":[100,200,300,400,500,600,700,800,900],"tickSize":{"condition":{"test":"datum.value % 200 === 0","value":8},"value":4},"title":"t₁","titleFont":"Liberation Serif","titleFontStyle":"italic","titleFontSize":25,"titleX":230,"titleY":19,"titleAlign":"center","titleBaseline":"alphabetic"}},"y":{"field":"y","type":"quantitative","scale":{"domain":[0,1000]},"axis":{"orient":"right","offset":-251,"values":[100,200,300,400,500,600,700,800,900],"tickSize":{"condition":{"test":"datum.value % 200 === 0","value":8},"value":4},"title":"t₂","titleFont":"Liberation Serif","titleFontStyle":"italic","titleFontSize":25,"titleAngle":0,"titleX":-19,"titleY":32,"titleAlign":"center","titleBaseline":"alphabetic"}}}},
{"data":{"name":"dots"},"mark":{"type":"square","size":5,"color":"black","opacity":1,"clip":true},"encoding":{"x":{"field":"y","type":"quantitative","scale":{"domain":[0,1000]},"axis":null},"y":{"field":"x","type":"quantitative","scale":{"domain":[0,1000]},"axis":null}}},
{"data":{"name":"curveC"},"mark":{"type":"area","fill":"white","interpolate":"monotone","orient":"vertical","clip":true},"encoding":{"x":{"field":"x","type":"quantitative","scale":{"domain":[0,1000]},"axis":{"orient":"bottom","offset":-233,"values":[100,200,300,400,500,600,700,800,900],"tickSize":{"condition":{"test":"datum.value % 200 === 0","value":8},"value":4},"title":null}},"y":{"field":"y","type":"quantitative","scale":{"domain":[0,1000]},"axis":{"orient":"left","offset":-251,"values":[100,200,300,400,500,600,700,800,900],"tickSize":{"condition":{"test":"datum.value % 200 === 0","value":8},"value":4},"title":null}}}},
{"data":{"values":[{}]},"mark":{"type":"rect","fill":"white","strokeWidth":0},"encoding":{"x":{"datum":0,"type":"quantitative","scale":{"domain":[0,1000]},"axis":null},"x2":{"datum":147},"y":{"datum":0,"type":"quantitative","scale":{"domain":[0,1000]},"axis":null},"y2":{"datum":1000}}},
{"data":{"name":"curveC"},"mark":{"type":"line","color":"#bbbbbb","strokeWidth":4,"interpolate":"monotone","clip":true},"encoding":{"x":{"field":"x","type":"quantitative","scale":{"domain":[0,1000]},"axis":null},"y":{"field":"y","type":"quantitative","scale":{"domain":[0,1000]},"axis":null}}},
{"data":{"name":"tanC"},"mark":{"type":"line","color":"black","strokeWidth":1,"clip":true},"encoding":{"x":{"field":"x","type":"quantitative","scale":{"domain":[0,1000]},"axis":null},"y":{"field":"y","type":"quantitative","scale":{"domain":[0,1000]},"axis":null},"detail":{"field":"s"}}},
{"data":{"name":"ptsC"},"mark":{"type":"circle","fill":"white","stroke":"black","strokeWidth":1,"size":90,"opacity":1},"encoding":{"x":{"field":"x","type":"quantitative","scale":{"domain":[0,1000]},"axis":null},"y":{"field":"y","type":"quantitative","scale":{"domain":[0,1000]},"axis":null}}},
{"data":{"values":[{}]},"mark":{"type":"rect","fill":"white","stroke":"#999999","strokeWidth":1.5},"encoding":{"x":{"datum":629,"type":"quantitative","scale":{"domain":[0,1000]},"axis":null},"x2":{"datum":928},"y":{"datum":909,"type":"quantitative","scale":{"domain":[0,1000]},"axis":null},"y2":{"datum":789}}},
{"data":{"values":[{}]},"mark":{"type":"text","text":"T","font":"Liberation Serif","fontStyle":"italic","fontSize":26,"align":"left","baseline":"alphabetic","color":"black"},"encoding":{"x":{"datum":637,"type":"quantitative","scale":{"domain":[0,1000]},"axis":null},"y":{"datum":812,"type":"quantitative","scale":{"domain":[0,1000]},"axis":null}}},
{"data":{"values":[{}]},"mark":{"type":"text","text":"f","font":"Liberation Serif","fontStyle":"italic","fontSize":18,"align":"left","baseline":"alphabetic","color":"black"},"encoding":{"x":{"datum":722,"type":"quantitative","scale":{"domain":[0,1000]},"axis":null},"y":{"datum":800,"type":"quantitative","scale":{"domain":[0,1000]},"axis":null}}},
{"data":{"values":[{}]},"mark":{"type":"text","text":"(Γ)","font":"Liberation Serif","fontSize":26,"align":"left","baseline":"alphabetic","color":"black"},"encoding":{"x":{"datum":773,"type":"quantitative","scale":{"domain":[0,1000]},"axis":null},"y":{"datum":812,"type":"quantitative","scale":{"domain":[0,1000]},"axis":null}}}
]},
{"width":251,"height":233,"title":"d","resolve":{"axis":{"x":"independent","y":"independent"}},"layer":[
{"data":{"name":"curveD"},"mark":{"type":"line","color":"black","strokeWidth":3,"interpolate":"monotone","clip":true},"encoding":{"x":{"field":"x","type":"quantitative","scale":{"domain":[0,1000]},"axis":{"orient":"top","offset":-233,"values":[100,200,300,400,500,600,700,800,900],"tickSize":{"condition":{"test":"datum.value % 200 === 0","value":8},"value":4},"title":"Control parameter","titleFont":"DejaVu Sans","titleFontSize":16,"titleX":125.5,"titleY":16,"titleAlign":"center","titleBaseline":"middle"}},"y":{"field":"y","type":"quantitative","scale":{"domain":[0,1000]},"axis":{"orient":"right","offset":-251,"values":[100,200,300,400,500,600,700,800,900],"tickSize":{"condition":{"test":"datum.value % 200 === 0","value":8},"value":4},"title":"Order parameter","titleFont":"DejaVu Sans","titleFontSize":16,"titleAngle":-90,"titleX":-16,"titleY":114,"titleAlign":"center","titleBaseline":"middle"}}}},
{"data":{"name":"curveD"},"mark":{"type":"line","opacity":0},"encoding":{"x":{"field":"x","type":"quantitative","scale":{"domain":[0,1000]},"axis":{"orient":"bottom","offset":-233,"values":[100,200,300,400,500,600,700,800,900],"tickSize":{"condition":{"test":"datum.value % 200 === 0","value":8},"value":4},"title":null}},"y":{"field":"y","type":"quantitative","scale":{"domain":[0,1000]},"axis":{"orient":"left","offset":-251,"values":[100,200,300,400,500,600,700,800,900],"tickSize":{"condition":{"test":"datum.value % 200 === 0","value":8},"value":4},"title":null}}}}
]},
{"width":251,"height":233,"title":"e","resolve":{"axis":{"x":"independent","y":"independent"}},"layer":[
{"data":{"name":"dots"},"mark":{"type":"square","size":5,"color":"black","opacity":1,"clip":true},"encoding":{"x":{"field":"x","type":"quantitative","scale":{"domain":[0,1000]},"axis":{"orient":"top","offset":-233,"values":[100,200,300,400,500,600,700,800,900],"tickSize":{"condition":{"test":"datum.value % 200 === 0","value":8},"value":4},"title":"t₁","titleFont":"Liberation Serif","titleFontStyle":"italic","titleFontSize":25,"titleX":230,"titleY":19,"titleAlign":"center","titleBaseline":"alphabetic"}},"y":{"field":"y","type":"quantitative","scale":{"domain":[0,1000]},"axis":{"orient":"right","offset":-251,"values":[100,200,300,400,500,600,700,800,900],"tickSize":{"condition":{"test":"datum.value % 200 === 0","value":8},"value":4},"title":"t₂","titleFont":"Liberation Serif","titleFontStyle":"italic","titleFontSize":25,"titleAngle":0,"titleX":-19,"titleY":32,"titleAlign":"center","titleBaseline":"alphabetic"}}}},
{"data":{"name":"dots"},"mark":{"type":"square","size":5,"color":"black","opacity":1,"clip":true},"encoding":{"x":{"field":"y","type":"quantitative","scale":{"domain":[0,1000]},"axis":null},"y":{"field":"x","type":"quantitative","scale":{"domain":[0,1000]},"axis":null}}},
{"data":{"name":"curveE"},"mark":{"type":"area","fill":"white","interpolate":"monotone","orient":"vertical","clip":true},"encoding":{"x":{"field":"x","type":"quantitative","scale":{"domain":[0,1000]},"axis":{"orient":"bottom","offset":-233,"values":[100,200,300,400,500,600,700,800,900],"tickSize":{"condition":{"test":"datum.value % 200 === 0","value":8},"value":4},"title":null}},"y":{"field":"y","type":"quantitative","scale":{"domain":[0,1000]},"axis":{"orient":"left","offset":-251,"values":[100,200,300,400,500,600,700,800,900],"tickSize":{"condition":{"test":"datum.value % 200 === 0","value":8},"value":4},"title":null}}}},
{"data":{"values":[{}]},"mark":{"type":"rect","fill":"white","strokeWidth":0},"encoding":{"x":{"datum":0,"type":"quantitative","scale":{"domain":[0,1000]},"axis":null},"x2":{"datum":16},"y":{"datum":0,"type":"quantitative","scale":{"domain":[0,1000]},"axis":null},"y2":{"datum":1000}}},
{"data":{"name":"curveE"},"mark":{"type":"line","color":"#bbbbbb","strokeWidth":4,"interpolate":"monotone","clip":true},"encoding":{"x":{"field":"x","type":"quantitative","scale":{"domain":[0,1000]},"axis":null},"y":{"field":"y","type":"quantitative","scale":{"domain":[0,1000]},"axis":null}}},
{"data":{"name":"tanE"},"mark":{"type":"line","color":"black","strokeWidth":1,"clip":true},"encoding":{"x":{"field":"x","type":"quantitative","scale":{"domain":[0,1000]},"axis":null},"y":{"field":"y","type":"quantitative","scale":{"domain":[0,1000]},"axis":null},"detail":{"field":"s"}}},
{"data":{"name":"ptsE"},"mark":{"type":"circle","fill":"white","stroke":"black","strokeWidth":1,"size":90,"opacity":1},"encoding":{"x":{"field":"x","type":"quantitative","scale":{"domain":[0,1000]},"axis":null},"y":{"field":"y","type":"quantitative","scale":{"domain":[0,1000]},"axis":null}}},
{"data":{"values":[{}]},"mark":{"type":"rect","fill":"white","stroke":"#999999","strokeWidth":1.5},"encoding":{"x":{"datum":629,"type":"quantitative","scale":{"domain":[0,1000]},"axis":null},"x2":{"datum":928},"y":{"datum":909,"type":"quantitative","scale":{"domain":[0,1000]},"axis":null},"y2":{"datum":789}}},
{"data":{"values":[{}]},"mark":{"type":"text","text":"T","font":"Liberation Serif","fontStyle":"italic","fontSize":26,"align":"left","baseline":"alphabetic","color":"black"},"encoding":{"x":{"datum":637,"type":"quantitative","scale":{"domain":[0,1000]},"axis":null},"y":{"datum":812,"type":"quantitative","scale":{"domain":[0,1000]},"axis":null}}},
{"data":{"values":[{}]},"mark":{"type":"text","text":"f","font":"Liberation Serif","fontStyle":"italic","fontSize":18,"align":"left","baseline":"alphabetic","color":"black"},"encoding":{"x":{"datum":722,"type":"quantitative","scale":{"domain":[0,1000]},"axis":null},"y":{"datum":800,"type":"quantitative","scale":{"domain":[0,1000]},"axis":null}}},
{"data":{"values":[{}]},"mark":{"type":"text","text":"(Γ)","font":"Liberation Serif","fontSize":26,"align":"left","baseline":"alphabetic","color":"black"},"encoding":{"x":{"datum":773,"type":"quantitative","scale":{"domain":[0,1000]},"axis":null},"y":{"datum":812,"type":"quantitative","scale":{"domain":[0,1000]},"axis":null}}}
]},
{"width":251,"height":233,"title":"f","resolve":{"axis":{"x":"independent","y":"independent"}},"layer":[
{"data":{"name":"curveF"},"mark":{"type":"line","color":"black","strokeWidth":3,"interpolate":"monotone","clip":true},"encoding":{"x":{"field":"x","type":"quantitative","scale":{"domain":[0,1000]},"axis":{"orient":"top","offset":-233,"values":[100,200,300,400,500,600,700,800,900],"tickSize":{"condition":{"test":"datum.value % 200 === 0","value":8},"value":4},"title":"Control parameter","titleFont":"DejaVu Sans","titleFontSize":16,"titleX":125.5,"titleY":16,"titleAlign":"center","titleBaseline":"middle"}},"y":{"field":"y","type":"quantitative","scale":{"domain":[0,1000]},"axis":{"orient":"right","offset":-251,"values":[100,200,300,400,500,600,700,800,900],"tickSize":{"condition":{"test":"datum.value % 200 === 0","value":8},"value":4},"title":"Order parameter","titleFont":"DejaVu Sans","titleFontSize":16,"titleAngle":-90,"titleX":-16,"titleY":114,"titleAlign":"center","titleBaseline":"middle"}}}},
{"data":{"name":"curveF"},"mark":{"type":"line","opacity":0},"encoding":{"x":{"field":"x","type":"quantitative","scale":{"domain":[0,1000]},"axis":{"orient":"bottom","offset":-233,"values":[100,200,300,400,500,600,700,800,900],"tickSize":{"condition":{"test":"datum.value % 200 === 0","value":8},"value":4},"title":null}},"y":{"field":"y","type":"quantitative","scale":{"domain":[0,1000]},"axis":{"orient":"left","offset":-251,"values":[100,200,300,400,500,600,700,800,900],"tickSize":{"condition":{"test":"datum.value % 200 === 0","value":8},"value":4},"title":null}}}}
]}
]
}
